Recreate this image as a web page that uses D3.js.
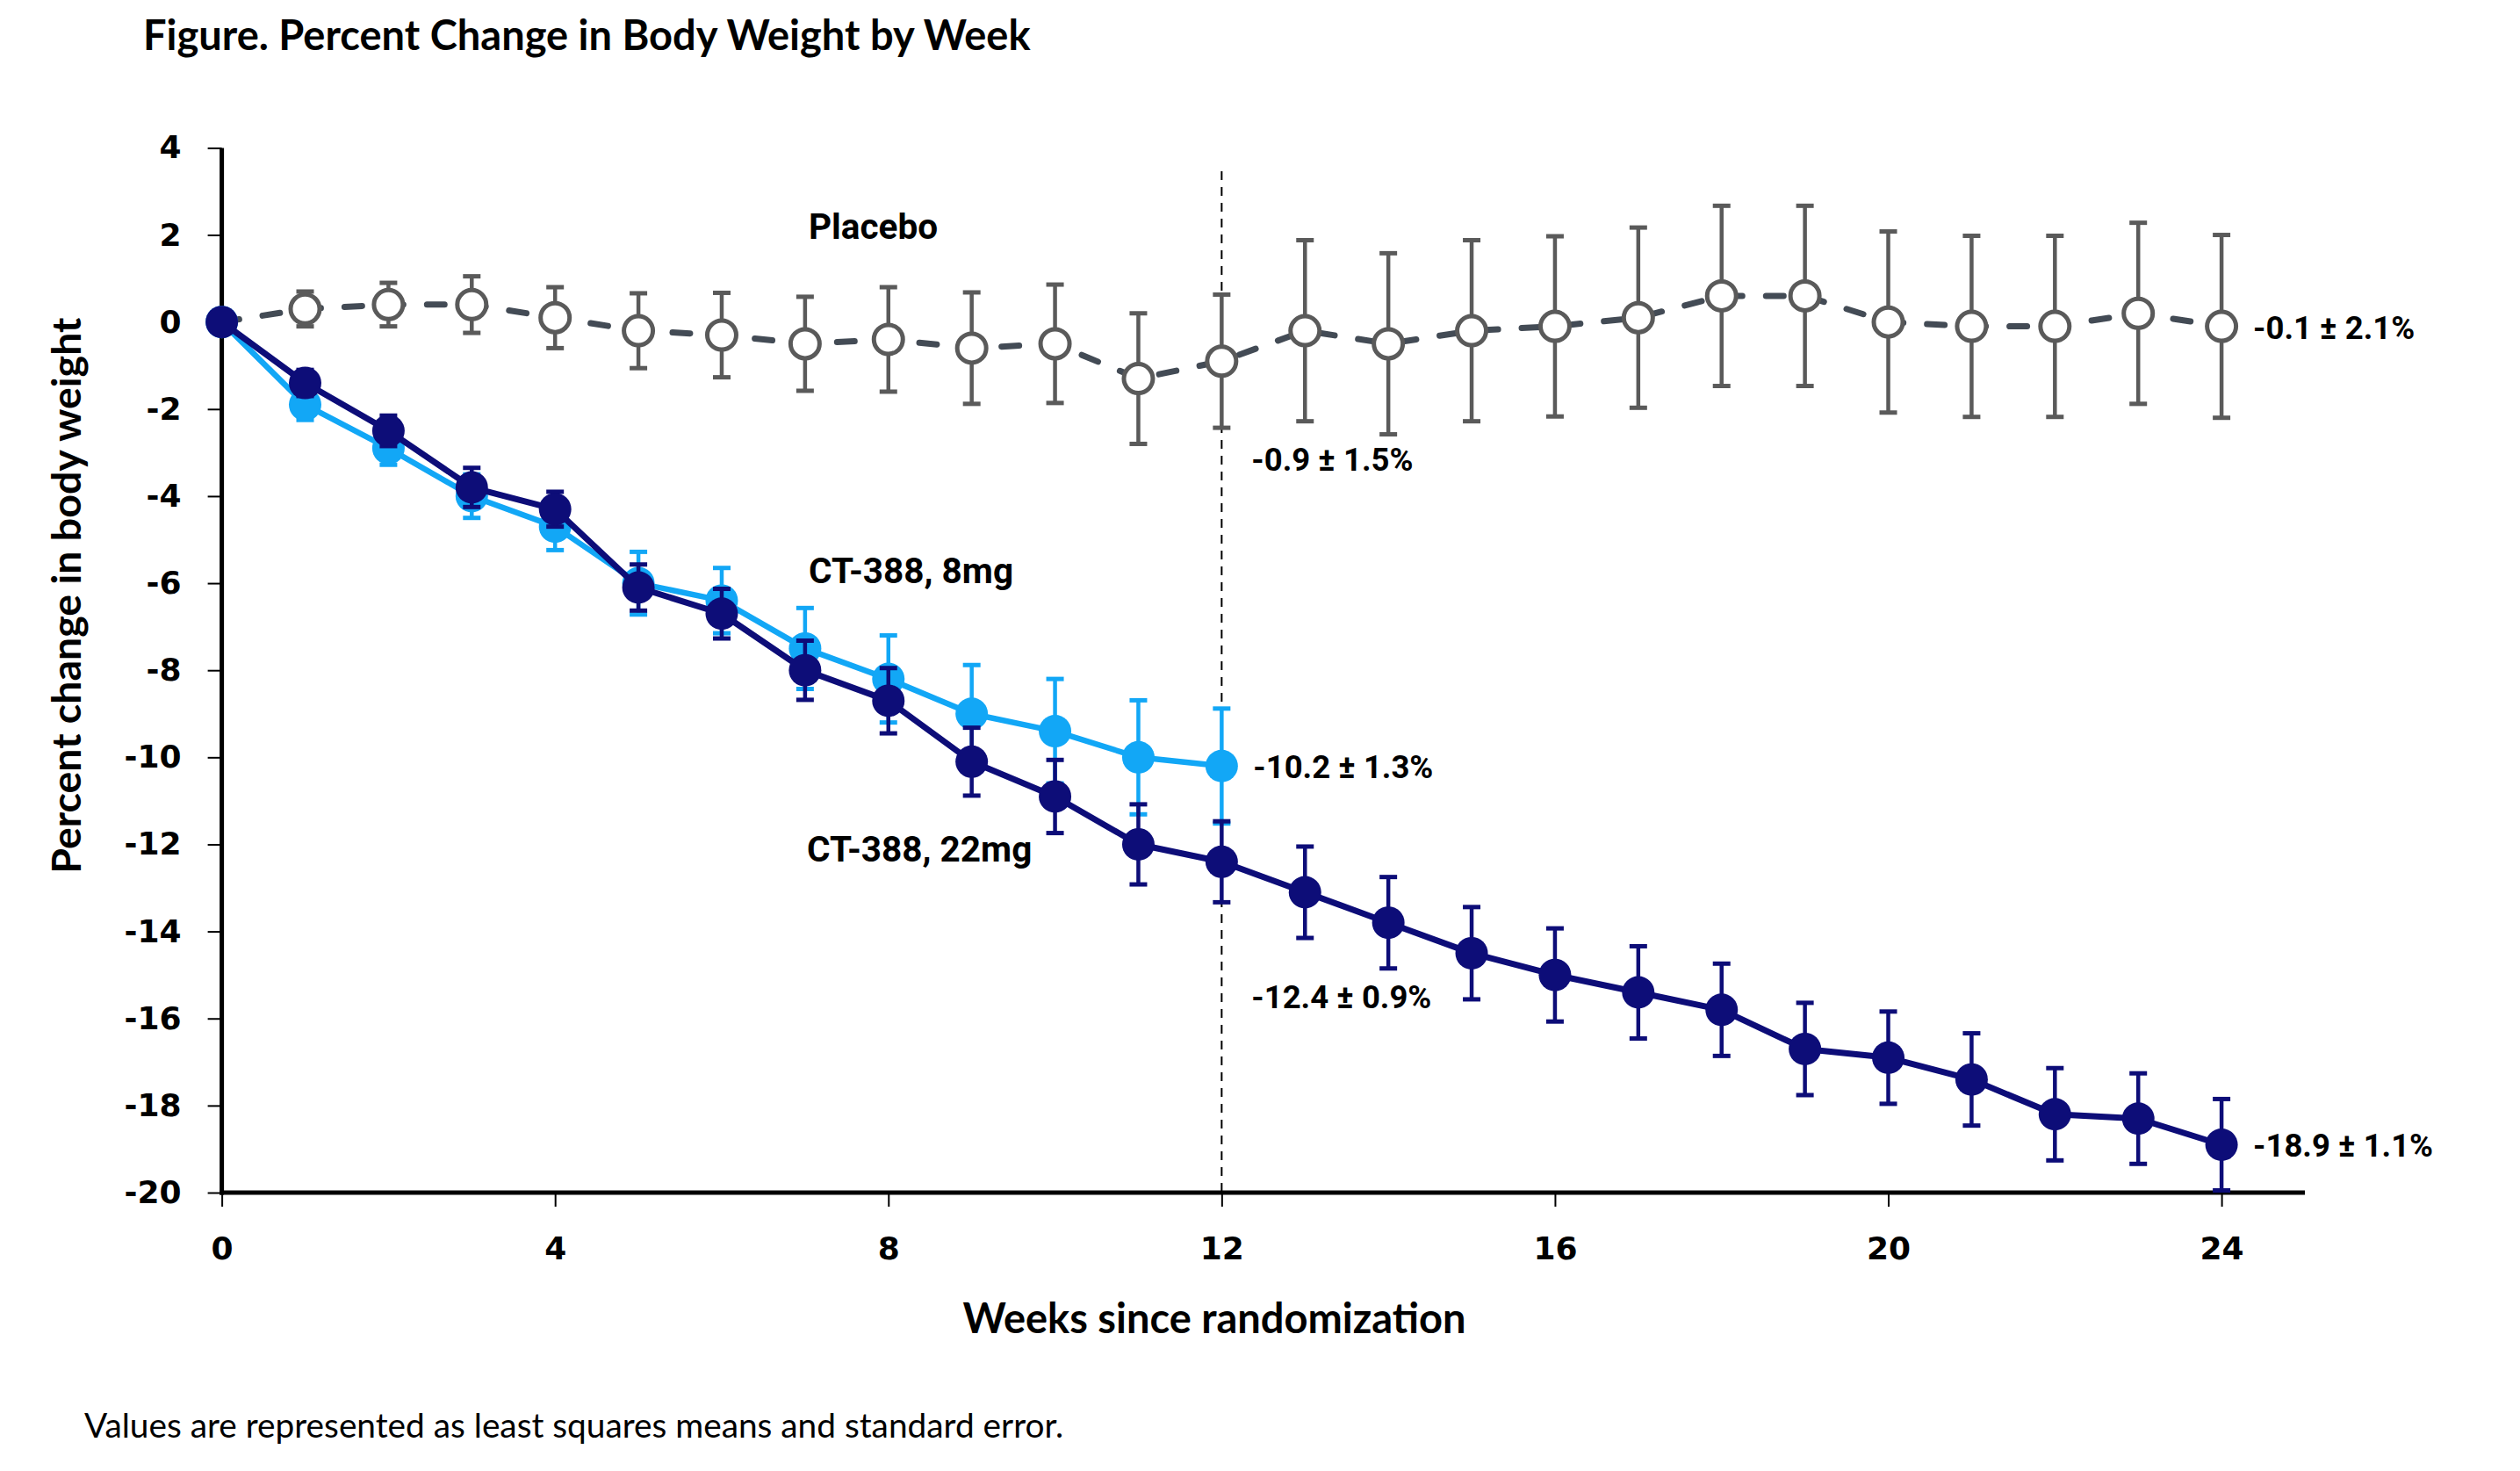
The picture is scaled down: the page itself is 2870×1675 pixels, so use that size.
<!DOCTYPE html>
<html>
<head>
<meta charset="utf-8">
<script src="https://cdn.jsdelivr.net/npm/d3@7"></script>
<style>
  html, body { margin: 0; padding: 0; background: #fff; }
  svg { display: block; }
</style>
</head>
<body>
<svg id="chart" width="2870" height="1675"></svg>
<script>
// ---------------- DATA ----------------
const weeks = [0,1,2,3,4,5,6,7,8,9,10,11,12,13,14,15,16,17,18,19,20,21,22,23,24];
const placeboMean = [0, 0.3, 0.4, 0.4, 0.1, -0.2, -0.3, -0.5, -0.4, -0.6, -0.5, -1.3, -0.9, -0.2, -0.5, -0.2, -0.1, 0.1, 0.6, 0.6, 0.0, -0.1, -0.1, 0.2, -0.1];
const placeboSE   = [0, 0.4, 0.5, 0.65, 0.7, 0.86, 0.97, 1.08, 1.2, 1.28, 1.36, 1.5, 1.53, 2.08, 2.08, 2.08, 2.07, 2.07, 2.07, 2.07, 2.08, 2.08, 2.08, 2.08, 2.1];
const weeks8mg = [0,1,2,3,4,5,6,7,8,9,10,11,12];
const mean8mg  = [0, -1.9, -2.9, -4.0, -4.7, -6.0, -6.4, -7.5, -8.2, -9.0, -9.4, -10.0, -10.2];
const se8mg    = [0, 0.35, 0.38, 0.5, 0.54, 0.72, 0.75, 0.93, 1.0, 1.12, 1.2, 1.31, 1.32];
const mean22mg = [0, -1.4, -2.5, -3.8, -4.3, -6.1, -6.7, -8.0, -8.7, -10.1, -10.9, -12.0, -12.4, -13.1, -13.8, -14.5, -15.0, -15.4, -15.8, -16.7, -16.9, -17.4, -18.2, -18.3, -18.9];
const se22mg   = [0, 0.3, 0.35, 0.45, 0.4, 0.53, 0.57, 0.68, 0.75, 0.78, 0.84, 0.92, 0.93, 1.05, 1.05, 1.06, 1.07, 1.06, 1.06, 1.06, 1.06, 1.06, 1.06, 1.04, 1.05];
const xTicks = [0, 4, 8, 12, 16, 20, 24];
const yTicks = [4, 2, 0, -2, -4, -6, -8, -10, -12, -14, -16, -18, -20];
const seriesLabels = { placebo: "Placebo", low: "CT-388, 8mg", high: "CT-388, 22mg" };
const endLabelWeeks  = [12, 12, 12, 24, 24];
const endLabelValues = [-0.9, -10.2, -12.4, -0.1, -18.9];
const endLabelTexts  = ["-0.9 ± 1.5%", "-10.2 ± 1.3%", "-12.4 ± 0.9%", "-0.1 ± 2.1%", "-18.9 ± 1.1%"];
const titleText = "Figure. Percent Change in Body Weight by Week";
const xTitle = "Weeks since randomization";
const yTitle = "Percent change in body weight";
const footnote = "Values are represented as least squares means and standard error.";

// ---------------- STYLE / LAYOUT ----------------
const NAVY = "#0d0d78", LIGHT = "#12a7f6", GREY = "#5a5a5a", DASH = "#434b55";
const calibri = "Lato, 'Open Sans', sans-serif";
const narrow = "Roboto, 'Liberation Sans', sans-serif";
const tickFont = "'DejaVu Sans', sans-serif";
// pixel offsets of the end labels from their data point (dx, dy of baseline)
const endLabelOffsets = [[34, 125], [36, 14], [34, 167], [36, 14], [36, 14]];

const svg = d3.select("#chart");
const x = d3.scaleLinear().domain([0, 25]).range([252.6, 2625]);
const y = d3.scaleLinear().domain([-20, 4]).range([1358, 168.4]);

// Title
svg.append("text").attr("x", 163).attr("y", 57)
  .attr("font-family", calibri).attr("font-weight", 700).attr("font-size", 47)
  .attr("fill", "#000").text(titleText);

// vertical dashed reference line at week 12
svg.append("line")
  .attr("x1", x(12)).attr("x2", x(12)).attr("y1", 195).attr("y2", y(-20))
  .attr("stroke", "#000").attr("stroke-width", 2).attr("stroke-dasharray", "10,8");

// Axes
const yAxis = d3.axisLeft(y).tickValues(yTicks).tickSize(16).tickSizeOuter(0).tickPadding(30)
  .tickFormat(d => String(d));
const gy = svg.append("g").attr("transform", `translate(${x(0)},0)`).call(yAxis);
gy.select(".domain").attr("stroke", "#000").attr("stroke-width", 5)
  .attr("d", `M0,${y(4)}V${y(-20) + 2.5}`);
gy.selectAll(".tick line").attr("stroke", "#000").attr("stroke-width", 2);
gy.selectAll(".tick text").attr("font-family", tickFont).attr("font-weight", 700)
  .attr("font-size", 36).attr("fill", "#000");

const xAxis = d3.axisBottom(x).tickValues(xTicks).tickSize(16).tickSizeOuter(0).tickPadding(34)
  .tickFormat(d => String(d));
const gx = svg.append("g").attr("transform", `translate(0,${y(-20)})`).call(xAxis);
gx.select(".domain").attr("stroke", "#000").attr("stroke-width", 5)
  .attr("d", `M${x(0) - 2.5},0H${x(25)}`);
gx.selectAll(".tick line").attr("stroke", "#000").attr("stroke-width", 2);
gx.selectAll(".tick text").attr("font-family", tickFont).attr("font-weight", 700)
  .attr("font-size", 36).attr("fill", "#000");

// Axis titles
svg.append("text")
  .attr("transform", `translate(92,${(y(4) + y(-20)) / 2 - 85}) rotate(-90)`)
  .attr("text-anchor", "middle")
  .attr("font-family", calibri).attr("font-weight", 700).attr("font-size", 46.5)
  .attr("fill", "#000").text(yTitle);
svg.append("text").attr("x", 1383).attr("y", 1518).attr("text-anchor", "middle")
  .attr("font-family", calibri).attr("font-weight", 700).attr("font-size", 47)
  .attr("fill", "#000").text(xTitle);
svg.append("text").attr("x", 96).attr("y", 1637)
  .attr("font-family", calibri).attr("font-weight", 400).attr("font-size", 38.8)
  .attr("fill", "#000").text(footnote);

// ---------------- series drawing ----------------
function drawSeries(wk, mean, se, opts) {
  const data = wk.map((w, i) => ({ w, m: mean[i], s: se[i] }));
  const g = svg.append("g");
  const line = d3.line().x(d => x(d.w)).y(d => y(d.m));
  g.append("path").datum(data).attr("d", line).attr("fill", "none")
    .attr("stroke", opts.lineColor).attr("stroke-width", opts.lineWidth)
    .attr("stroke-dasharray", opts.dash || null)
    .attr("stroke-linecap", opts.dash ? "round" : "butt")
    .attr("stroke-linejoin", "round");
  const eb = g.append("g").selectAll("g").data(data.filter(d => d.s > 0)).join("g");
  eb.append("line").attr("x1", d => x(d.w)).attr("x2", d => x(d.w))
    .attr("y1", d => y(d.m + d.s)).attr("y2", d => y(d.m - d.s))
    .attr("stroke", opts.barColor).attr("stroke-width", opts.barWidth);
  [1, -1].forEach(sg => {
    eb.append("line").attr("x1", d => x(d.w) - 10).attr("x2", d => x(d.w) + 10)
      .attr("y1", d => y(d.m + sg * d.s)).attr("y2", d => y(d.m + sg * d.s))
      .attr("stroke", opts.barColor).attr("stroke-width", opts.capWidth);
  });
  g.append("g").selectAll("circle").data(data.filter(d => opts.skipFirst ? d.w > 0 : true)).join("circle")
    .attr("cx", d => x(d.w)).attr("cy", d => y(d.m)).attr("r", opts.r)
    .attr("fill", opts.fill).attr("stroke", opts.stroke || "none")
    .attr("stroke-width", opts.strokeWidth || 0);
}

drawSeries(weeks, placeboMean, placeboSE, {
  lineColor: DASH, lineWidth: 7, dash: "20,27", barColor: GREY, barWidth: 4.5, capWidth: 5,
  r: 16.5, fill: "#fff", stroke: GREY, strokeWidth: 5, skipFirst: true
});
drawSeries(weeks8mg, mean8mg, se8mg, {
  lineColor: LIGHT, lineWidth: 6.5, barColor: LIGHT, barWidth: 4.5, capWidth: 5,
  r: 18.5, fill: LIGHT
});
drawSeries(weeks, mean22mg, se22mg, {
  lineColor: NAVY, lineWidth: 7, barColor: NAVY, barWidth: 4.5, capWidth: 5,
  r: 18.5, fill: NAVY
});

// Series labels
const lab = (tx, ty, t, fs) => svg.append("text").attr("x", tx).attr("y", ty)
  .attr("font-family", narrow).attr("font-weight", 700).attr("font-size", fs)
  .attr("fill", "#000").text(t);
lab(921, 272, seriesLabels.placebo, 40.5);
lab(921, 664, seriesLabels.low, 40.5);
lab(919, 981, seriesLabels.high, 40.5);

// End-value labels
endLabelTexts.forEach((t, i) => {
  const [dx, dy] = endLabelOffsets[i];
  lab(x(endLabelWeeks[i]) + dx, y(endLabelValues[i]) + dy, t, 36.5);
});
</script>
</body>
</html>
